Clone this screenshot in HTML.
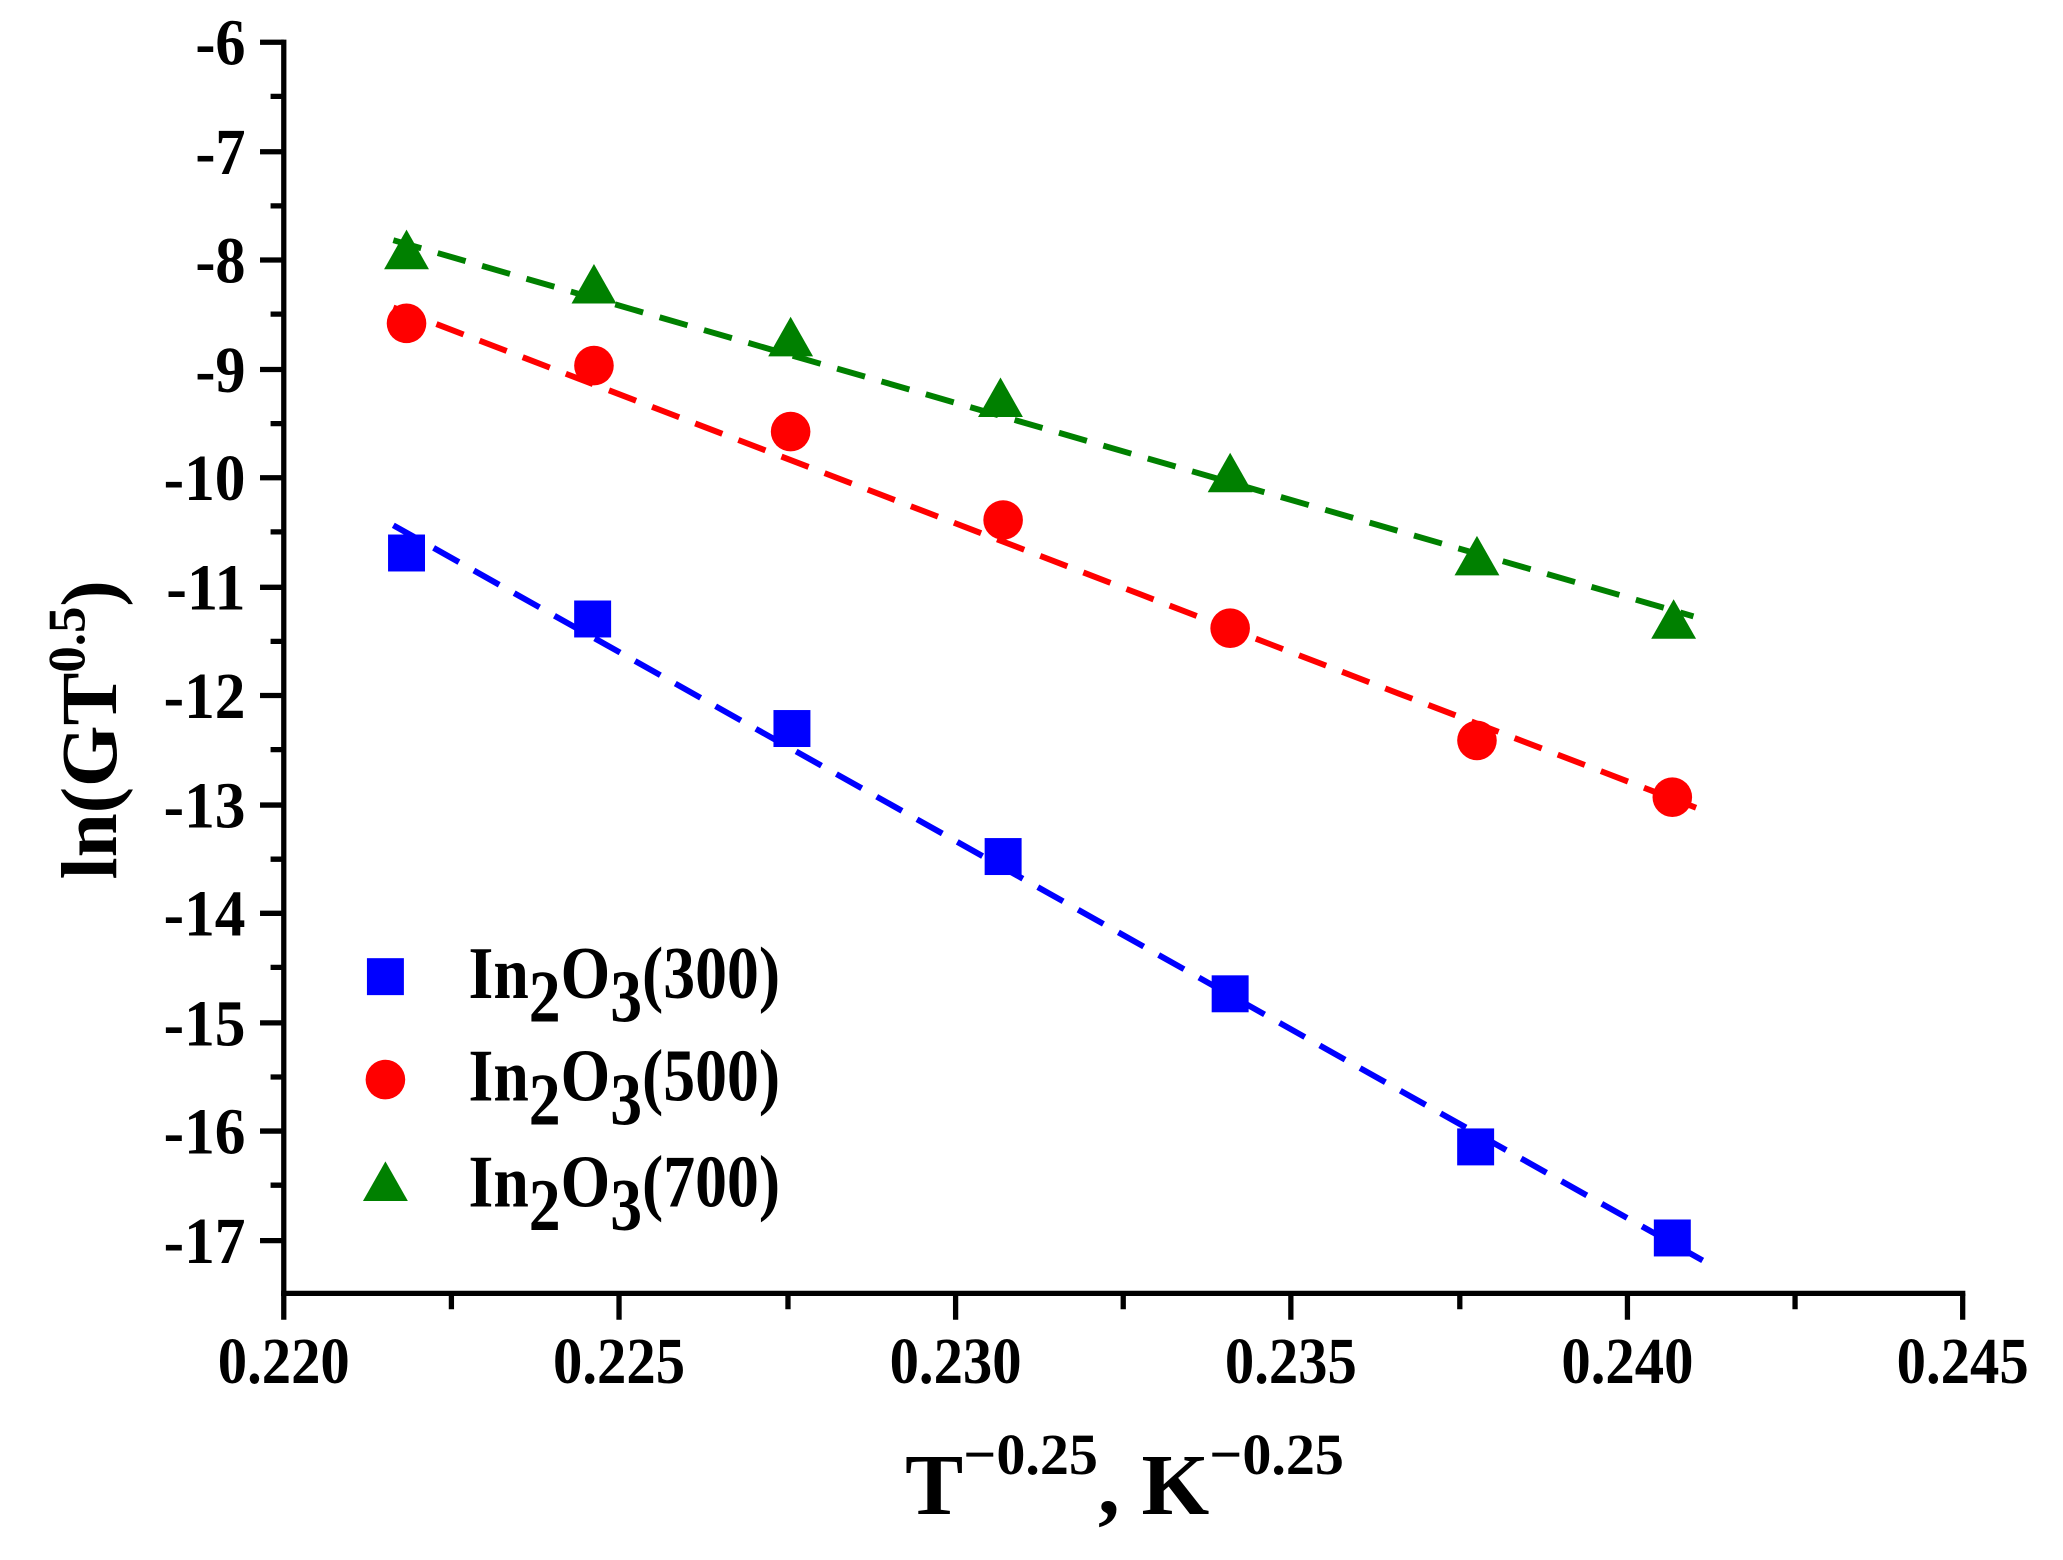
<!DOCTYPE html>
<html><head><meta charset="utf-8"><style>
html,body{margin:0;padding:0;background:#fff;}
svg{display:block;}
text{font-family:"Liberation Serif",serif;font-weight:bold;fill:#000;}
</style></head><body>
<svg width="2063" height="1560" viewBox="0 0 1563 1182" preserveAspectRatio="none" xmlns="http://www.w3.org/2000/svg">
<g stroke="#000" stroke-width="4" fill="none">
<line x1="215" y1="30" x2="215" y2="982"/>
<line x1="213" y1="980" x2="1489" y2="980"/>
<path d="M197 32H215M197 115H215M197 197H215M197 280H215M197 362H215M197 445H215M197 527H215M197 610H215M197 692H215M197 775H215M197 857H215M197 940H215"/>
<path d="M205 73H215M205 156H215M205 238H215M205 321H215M205 403H215M205 486H215M205 568H215M205 651H215M205 733H215M205 816H215M205 898H215"/>
<path d="M215 980V1000M469 980V1000M724 980V1000M978 980V1000M1233 980V1000M1487 980V1000"/>
<path d="M342 980V992M597 980V992M851 980V992M1106 980V992M1360 980V992"/>
</g>
<g font-size="50" text-anchor="end" lengthAdjust="spacingAndGlyphs">
<text x="186" y="49" textLength="38" lengthAdjust="spacingAndGlyphs">-6</text>
<text x="186" y="132" textLength="38" lengthAdjust="spacingAndGlyphs">-7</text>
<text x="186" y="214" textLength="38" lengthAdjust="spacingAndGlyphs">-8</text>
<text x="186" y="297" textLength="38" lengthAdjust="spacingAndGlyphs">-9</text>
<text x="186" y="379" textLength="62" lengthAdjust="spacingAndGlyphs">-10</text>
<text x="186" y="462" textLength="60" lengthAdjust="spacingAndGlyphs">-11</text>
<text x="186" y="544" textLength="62" lengthAdjust="spacingAndGlyphs">-12</text>
<text x="186" y="627" textLength="62" lengthAdjust="spacingAndGlyphs">-13</text>
<text x="186" y="709" textLength="62" lengthAdjust="spacingAndGlyphs">-14</text>
<text x="186" y="792" textLength="62" lengthAdjust="spacingAndGlyphs">-15</text>
<text x="186" y="874" textLength="62" lengthAdjust="spacingAndGlyphs">-16</text>
<text x="186" y="957" textLength="62" lengthAdjust="spacingAndGlyphs">-17</text>
</g>
<g font-size="50" text-anchor="middle">
<text x="215" y="1048" textLength="100" lengthAdjust="spacingAndGlyphs">0.220</text>
<text x="469" y="1048" textLength="100" lengthAdjust="spacingAndGlyphs">0.225</text>
<text x="724" y="1048" textLength="100" lengthAdjust="spacingAndGlyphs">0.230</text>
<text x="978" y="1048" textLength="100" lengthAdjust="spacingAndGlyphs">0.235</text>
<text x="1233" y="1048" textLength="100" lengthAdjust="spacingAndGlyphs">0.240</text>
<text x="1487" y="1048" textLength="100" lengthAdjust="spacingAndGlyphs">0.245</text>
</g>
<text transform="translate(88,553) rotate(-90)" font-size="60" text-anchor="middle">ln(GT<tspan font-size="40" dy="-24">0.5</tspan><tspan dy="24">)</tspan></text>
<text x="852" y="1147" font-size="66" text-anchor="middle">T<tspan font-size="44" dy="-30">−0.25</tspan><tspan dy="30">, K</tspan><tspan font-size="44" dy="-30">−0.25</tspan></text>
<g stroke-width="4.5" stroke-dasharray="22,13" fill="none">
<line x1="298" y1="398" x2="1290" y2="955" stroke="#0000ff"/>
<line x1="298" y1="233" x2="1285" y2="612" stroke="#ff0000"/>
<line x1="298" y1="182" x2="1283" y2="467" stroke="#008000"/>
</g>
<g fill="#0000ff">
<rect x="294" y="405" width="28" height="28"/><rect x="435" y="455" width="28" height="28"/><rect x="586" y="538" width="28" height="28"/>
<rect x="746" y="635" width="28" height="28"/><rect x="918" y="739" width="28" height="28"/><rect x="1104" y="855" width="28" height="28"/>
<rect x="1253" y="924" width="28" height="28"/>
<rect x="278" y="726" width="28" height="28"/>
</g>
<g fill="#ff0000">
<circle cx="308" cy="245" r="15"/><circle cx="450" cy="277" r="15"/><circle cx="599" cy="327" r="15"/><circle cx="760" cy="394" r="15"/>
<circle cx="932" cy="476" r="15"/><circle cx="1119" cy="561" r="15"/><circle cx="1267" cy="604" r="15"/>
<circle cx="292" cy="818" r="15"/>
</g>
<g fill="#008000">
<path d="M308 174L325 204H291Z"/><path d="M450 200L467 230H433Z"/><path d="M599 240L616 270H582Z"/><path d="M758 286L775 316H741Z"/>
<path d="M932 343L949 373H915Z"/><path d="M1119 406L1136 436H1102Z"/><path d="M1268 454L1285 484H1251Z"/>
<path d="M292 880L309 910H275Z"/>
</g>
<g font-size="56">
<text x="355" y="756" textLength="236" lengthAdjust="spacingAndGlyphs">In<tspan dy="18">2</tspan><tspan dy="-18">O</tspan><tspan dy="18">3</tspan><tspan dy="-18">(300)</tspan></text>
<text x="355" y="834" textLength="236" lengthAdjust="spacingAndGlyphs">In<tspan dy="18">2</tspan><tspan dy="-18">O</tspan><tspan dy="18">3</tspan><tspan dy="-18">(500)</tspan></text>
<text x="355" y="914" textLength="236" lengthAdjust="spacingAndGlyphs">In<tspan dy="18">2</tspan><tspan dy="-18">O</tspan><tspan dy="18">3</tspan><tspan dy="-18">(700)</tspan></text>
</g>
</svg>
</body></html>
